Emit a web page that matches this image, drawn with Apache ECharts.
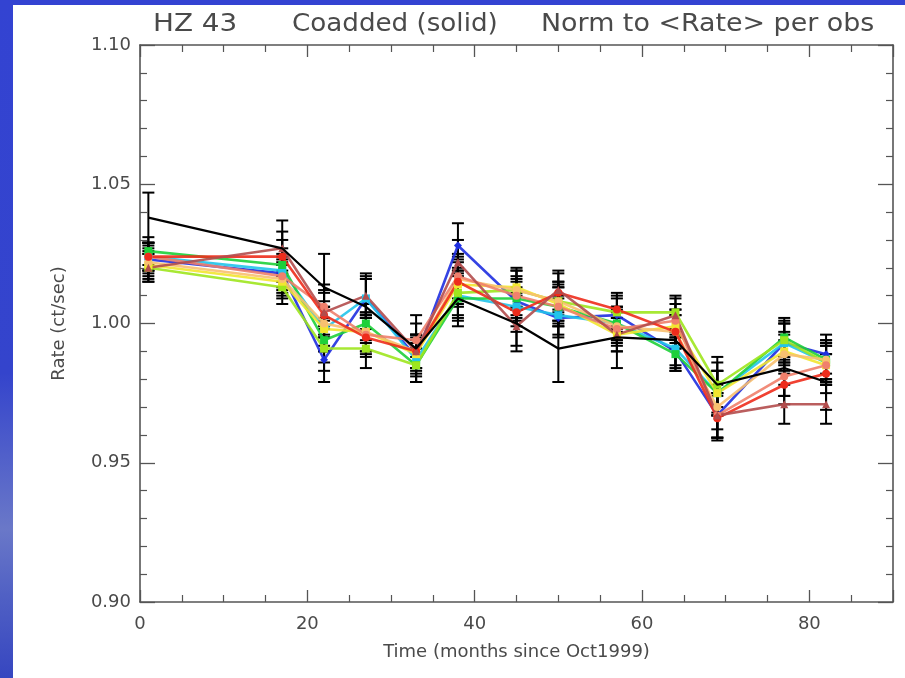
<!DOCTYPE html>
<html>
<head>
<meta charset="utf-8">
<script src="https://cdn.jsdelivr.net/npm/echarts@6/dist/echarts.min.js"></script>
<style>
html,body{margin:0;padding:0;width:905px;height:678px;overflow:hidden;
background:linear-gradient(180deg,#3343d2 0%,#3444cc 55%,#6a78c8 78%,#5060c4 88%,#3646c0 100%);}
#chart{position:absolute;left:13px;top:5px;width:892px;height:673px;background:#fff;}
</style>
</head>
<body>
<div id="chart"></div>
<script>
// ---- data ----
const xMonths = [1, 17, 22, 27, 33, 38, 45, 50, 57, 64, 69, 77, 82];
const coadded    = [1.038, 1.027, 1.013, 1.006, 0.991, 1.009, 1.000, 0.991, 0.995, 0.994, 0.978, 0.984, 0.979];
const coaddedErr = [0.009, 0.010, 0.012, 0.012, 0.012, 0.010, 0.010, 0.012, 0.011, 0.011, 0.010, 0.010, 0.010];
const obsErr     = [0.005, 0.006, 0.008, 0.007, 0.006, 0.008, 0.007, 0.007, 0.006, 0.006, 0.008, 0.007, 0.007];
const blue   = [1.023, 1.018, 0.987, 1.009, 0.988, 1.028, 1.008, 1.002, 1.003, 0.990, 0.967, 0.993, 0.989];
const cyan   = [1.024, 1.019, 0.998, 1.009, 0.987, 1.010, 1.006, 1.003, 1.000, 0.991, 0.975, 0.993, 0.986];
const green  = [1.026, 1.021, 0.994, 1.000, 0.985, 1.009, 1.009, 1.006, 1.000, 0.989, 0.975, 0.995, 0.987];
const lime   = [1.020, 1.013, 0.991, 0.991, 0.985, 1.011, 1.012, 1.008, 1.004, 1.004, 0.978, 0.994, 0.986];
const yellow = [1.021, 1.015, 0.998, 0.997, 0.989, 1.014, 1.013, 1.007, 0.996, 0.999, 0.975, 0.990, 0.985];
const orange = [1.022, 1.016, 1.000, 0.997, 0.990, 1.016, 1.012, 1.008, 0.999, 0.997, 0.970, 0.989, 0.987];
const salmon = [1.024, 1.017, 1.006, 0.996, 0.994, 1.017, 1.010, 1.006, 0.998, 1.001, 0.967, 0.981, 0.985];
const red    = [1.024, 1.024, 1.003, 0.995, 0.990, 1.015, 1.004, 1.011, 1.005, 0.997, 0.966, 0.978, 0.982];
const brown  = [1.020, 1.027, 1.004, 1.010, 0.990, 1.022, 0.999, 1.012, 0.996, 1.003, 0.967, 0.971, 0.971];
const xTicks = [0, 20, 40, 60, 80];
const yTicks = ['0.90', '0.95', '1.00', '1.05', '1.10'];
const titleParts = ['HZ 43', 'Coadded (solid)', 'Norm to <Rate> per obs'];
const xName = 'Time (months since Oct1999)';
const yName = 'Rate (ct/sec)';

// ---- style ----
const obsSeries = [
  {name: 'blue',   vals: blue,   color: '#1f2fe0', symbol: 'diamond'},
  {name: 'cyan',   vals: cyan,   color: '#22c4ea', symbol: 'rect'},
  {name: 'green',  vals: green,  color: '#1ed03a', symbol: 'rect'},
  {name: 'lime',   vals: lime,   color: '#9ee61e', symbol: 'rect'},
  {name: 'yellow', vals: yellow, color: '#f2e630', symbol: 'rect'},
  {name: 'orange', vals: orange, color: '#f8c070', symbol: 'circle'},
  {name: 'salmon', vals: salmon, color: '#f0806c', symbol: 'circle'},
  {name: 'red',    vals: red,    color: '#ee2c1c', symbol: 'circle'},
  {name: 'brown',  vals: brown,  color: '#b24c4c', symbol: 'triangle'}
];
const font = '"DejaVu Sans", sans-serif';
const txt = '#4a4a4a';
const axisCol = '#555';

const chart = echarts.init(document.getElementById('chart'), null, {renderer: 'canvas'});

function errItem(params, api) {
  const x = api.value(0), lo = api.value(1), hi = api.value(2);
  const a = api.coord([x, lo]), b = api.coord([x, hi]);
  const w = 6;
  const st = {stroke: '#000', lineWidth: 2};
  return {type: 'group', children: [
    {type: 'line', shape: {x1: a[0], y1: a[1], x2: b[0], y2: b[1]}, style: st},
    {type: 'line', shape: {x1: a[0] - w, y1: a[1], x2: a[0] + w, y2: a[1]}, style: st},
    {type: 'line', shape: {x1: b[0] - w, y1: b[1], x2: b[0] + w, y2: b[1]}, style: st}
  ]};
}

const series = [];
obsSeries.forEach(s => {
  series.push({
    type: 'custom', name: s.name + '-err', renderItem: errItem, z: 3,
    encode: {x: 0, y: [1, 2]},
    data: xMonths.map((x, i) => [x, s.vals[i] - obsErr[i], s.vals[i] + obsErr[i]])
  });
});
series.push({
  type: 'custom', name: 'coadded-err', renderItem: errItem, z: 3,
  encode: {x: 0, y: [1, 2]},
  data: xMonths.map((x, i) => [x, coadded[i] - coaddedErr[i], coadded[i] + coaddedErr[i]])
});
obsSeries.forEach(s => {
  series.push({
    type: 'line', name: s.name, z: 4,
    data: xMonths.map((x, i) => [x, s.vals[i]]),
    symbol: s.symbol, symbolSize: 8, showSymbol: true,
    lineStyle: {color: s.color, width: 2.6, opacity: 0.9},
    itemStyle: {color: s.color},
    animation: false
  });
});
series.push({
  type: 'line', name: 'coadded', z: 5,
  data: xMonths.map((x, i) => [x, coadded[i]]),
  symbol: 'none',
  lineStyle: {color: '#000', width: 2.2},
  animation: false
});

const axCommon = {
  axisLine: {show: true, onZero: false, lineStyle: {color: axisCol, width: 1.6}},
  splitLine: {show: false}
};

chart.setOption({
  animation: false,
  backgroundColor: '#fff',
  grid: {left: 127, top: 40, right: 12, bottom: 76},
  graphic: [
    {type: 'text', x: 140, y: 8, scaleX: 1.16, style: {text: titleParts[0], font: '24px ' + font, fill: txt}},
    {type: 'text', x: 279, y: 8, scaleX: 1.09, style: {text: titleParts[1], font: '24px ' + font, fill: txt}},
    {type: 'text', x: 528, y: 8, scaleX: 1.12, style: {text: titleParts[2], font: '24px ' + font, fill: txt}}
  ],
  xAxis: [
    Object.assign({}, axCommon, {
      type: 'value', min: 0, max: 90, interval: 20, position: 'bottom',
      name: xName, nameLocation: 'middle', nameGap: 41,
      nameTextStyle: {fontFamily: font, fontSize: 18, color: txt},
      axisTick: {show: true, inside: true, length: 12, lineStyle: {color: axisCol, width: 1.3}},
      minorTick: {show: true, splitNumber: 4, length: 7, lineStyle: {color: axisCol, width: 1.2}},
      axisLabel: {fontFamily: font, fontSize: 18, color: txt, margin: 13,
        formatter: v => xTicks.includes(v) ? String(v) : ''}
    }),
    Object.assign({}, axCommon, {
      type: 'value', min: 0, max: 90, interval: 20, position: 'top',
      axisTick: {show: true, inside: true, length: 12, lineStyle: {color: axisCol, width: 1.3}},
      minorTick: {show: true, splitNumber: 4, length: 7, lineStyle: {color: axisCol, width: 1.2}},
      axisLabel: {show: false}
    })
  ],
  yAxis: [
    Object.assign({}, axCommon, {
      type: 'value', min: 0.90, max: 1.10, interval: 0.05, position: 'left',
      name: yName, nameLocation: 'middle', nameGap: 72,
      nameTextStyle: {fontFamily: font, fontSize: 18, color: txt},
      axisTick: {show: true, inside: true, length: 15, lineStyle: {color: axisCol, width: 1.3}},
      minorTick: {show: true, splitNumber: 5, length: 7, lineStyle: {color: axisCol, width: 1.2}},
      axisLabel: {fontFamily: font, fontSize: 18, color: txt, margin: 9,
        formatter: v => { const s = v.toFixed(2); return yTicks.includes(s) ? s : ''; }}
    }),
    Object.assign({}, axCommon, {
      type: 'value', min: 0.90, max: 1.10, interval: 0.05, position: 'right',
      axisTick: {show: true, inside: true, length: 15, lineStyle: {color: axisCol, width: 1.3}},
      minorTick: {show: true, splitNumber: 5, length: 7, lineStyle: {color: axisCol, width: 1.2}},
      axisLabel: {show: false}
    })
  ],
  series: series
});
</script>
</body>
</html>
